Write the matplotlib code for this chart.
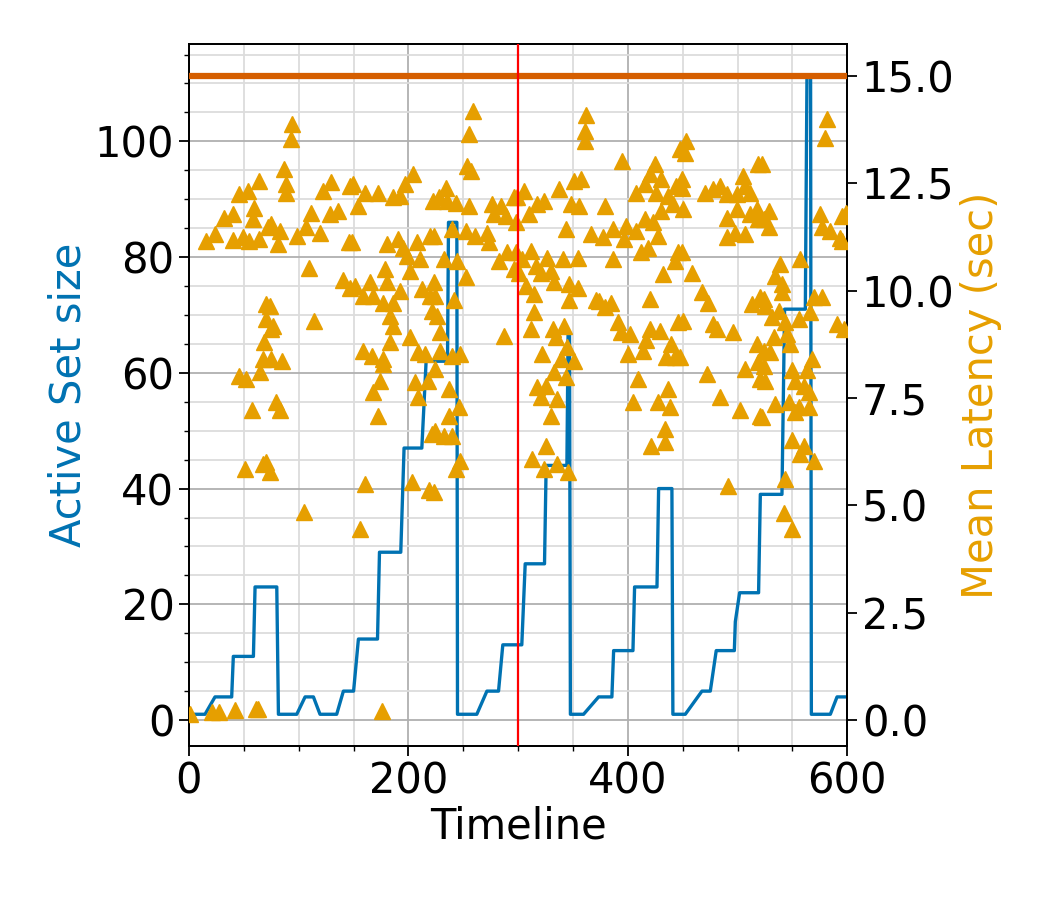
import matplotlib
matplotlib.use("Agg")
import matplotlib.pyplot as plt
from matplotlib.ticker import MultipleLocator

# active set size over time (step-like line, vertices)
set_time = [0, 14.6, 23.7, 38.9, 40.4, 58.7, 60.2, 80, 81.5, 98.2, 105.8, 113.4,
            119.4, 134.6, 140.7, 150, 154.4, 171.8, 173.6, 193, 196, 212.2, 216.1,
            235.6, 236.5, 244.1, 244.7, 262.3, 271.5, 282.1, 286, 303.3, 306.4,
            324, 325.5, 344.4, 345.5, 346.8, 347.6, 359.6, 373.3, 385.4, 387,
            404.6, 406.1, 426.5, 428, 440.1, 441, 452.3, 459.9, 467.5, 475.1,
            480.5, 497, 497.9, 501.8, 519.1, 520.7, 540.4, 542.8, 561.7, 563.2,
            566.5, 567.2, 584.5, 590.6, 600]
set_size = [1, 1, 4, 4, 11, 11, 23, 23, 1, 1, 4, 4,
            1, 1, 5, 5, 14, 14, 29, 29, 47, 47, 62,
            62, 86, 86, 1, 1, 5, 5, 13, 13, 27,
            27, 44, 44, 67, 67, 1, 1, 4, 4, 12,
            12, 23, 23, 40, 40, 1, 1, 3, 5, 5,
            12, 12, 17, 22, 22, 39, 39, 71, 71, 111.3,
            111.3, 1, 1, 4, 4]

# mean latency samples (time, seconds)
lat_time = [
    1, 21, 27, 42, 61, 63, 176,
    64.2, 45.9, 53.5, 59.6, 58.1, 32.3, 39.9, 71.8, 15.5, 24.1, 39.9, 49, 55.1,
    64.2, 70.3, 70.3, 68.7, 67.2, 64.8, 45.3, 52, 57.5, 51.4, 67.2, 70.3,
    93.9, 93.3, 86.6, 88.7, 88.7, 122.2, 129.2, 146.5, 110.9, 128.2, 135.8,
    107, 119.1, 98.8, 75, 82.6, 81.1, 145.6, 109.1, 140.4, 146.5, 114, 73.5,
    76.6, 74.4, 75, 84.8, 79.6, 82.6, 73.5, 104.8,
    204.6, 197, 149.8, 160.5, 154.4, 172.6, 186.3, 192.4, 222.8, 148.3, 180.2,
    190.9, 195.4, 207.6, 198.5, 210.6, 219.8, 178.7, 201.5, 180.2, 151.4, 165,
    159, 168.1, 177.2, 186.3, 192.4, 212.2, 219.8, 183.3, 186.3, 221.3, 183.3,
    201.5, 209.1, 215.2, 159, 166.6, 177.2, 177.2, 174.2, 168.1, 206.1, 209.1,
    218.2, 172.6, 221.3, 160.5, 203, 219.1, 155.9,
    258.7, 255.6, 253.5, 256.6, 233.8, 227.7, 235.3, 242.9, 255, 276.3, 283.9,
    277.8, 288.5, 296, 223.1, 239.8, 252, 261.1, 271.8, 273.3, 282.4, 290,
    296.1, 232.2, 244.4, 252, 223.1, 224.6, 241.4, 226.2, 229.2, 287, 229.2,
    239.8, 247.4, 224.6, 236.8, 245.9, 236.8, 224.6, 232.2, 239.8, 247.4,
    242.9, 223.1,
    361.7, 360.8, 360.8, 351, 357.1, 337.3, 305.4, 299.3, 323.7, 317.6, 310,
    348, 355.6, 343.4, 366.2, 297.8, 297.8, 303.9, 311.5, 316.1, 326.7, 340.4,
    354.1, 320.6, 329.7, 300.9, 332.8, 306.9, 314.5, 346.5, 354.1, 346.5,
    370.8, 314.5, 311.5, 331.3, 341.9, 334.3, 344.9, 322.1, 338.9, 351, 332.8,
    343.4, 317.6, 325.2, 320.6, 335.8, 329.7, 325.2, 313, 323.1, 335.8, 345.5,
    394.8, 447.1, 424.3, 419.7, 430.4, 415.2, 407.6, 425.8, 436.5, 444, 441,
    378.7, 430.4, 415.2, 422.8, 398.5, 386.3, 407.6, 427.3, 377.2, 396.9,
    418.2, 412.1, 386.3, 442.5, 431.9, 445.6, 374.1, 384.8, 378.7, 419.7,
    445.6, 390.9, 393.9, 401.5, 419.7, 428.9, 416.7, 413.7, 400, 439.5, 435,
    442.5, 409.1, 436.5, 404.5, 427.3, 438, 433.4, 421.3, 433.4,
    452.6, 452, 518.9, 505.2, 506.7, 511.3, 448.9, 448.9, 470.2, 477.8, 483.9,
    490, 499.1, 450.5, 490, 499.1, 511.3, 517.3, 518.9, 490, 497.6, 506.7,
    448.9, 458.1, 467.2, 473.3, 512.8, 520.4, 450.5, 477.8, 480.9, 496.1,
    517.3, 447.4, 518.9, 471.7, 506.7, 483.9, 502.1, 520.4, 520.4, 491.5,
    581.5, 580, 522.2, 528.3, 523.7, 528.3, 575.4, 576.9, 584.5, 595.2, 595.2,
    557.2, 539, 534.4, 540.5, 540.5, 523.7, 525.3, 569.3, 576.9, 537.4, 566.3,
    555.7, 531.3, 543.5, 590.6, 596.7, 545, 532.9, 523.7, 529.8, 548.1, 567.8,
    563.3, 549.6, 523.7, 525.3, 552.6, 560.2, 564.8, 534.4, 546.5, 555.7,
    564.8, 552.6, 522.2, 549.6, 560.2, 557.2, 569.3, 543.5, 542, 549.6,
    593.6, 599,
]
latency = [
    0.14, 0.19, 0.19, 0.23, 0.26, 0.26, 0.2,
    12.55, 12.24, 12.32, 11.93, 11.66, 11.7, 11.78, 11.47, 11.16, 11.31, 11.18,
    11.24, 11.16, 11.2, 9.69, 9.35, 8.8, 8.41, 8.1, 8.02, 7.94, 7.21, 5.85,
    5.97, 6.0,
    13.87, 13.52, 12.84, 12.48, 12.28, 12.32, 12.53, 12.44, 11.8, 11.78, 11.86,
    11.47, 11.35, 11.28, 11.55, 11.39, 11.08, 11.12, 10.52, 10.25, 10.07, 9.3,
    9.65, 9.18, 9.1, 8.41, 8.37, 7.4, 7.21, 5.77, 4.84,
    12.71, 12.48, 12.48, 12.28, 11.97, 12.28, 12.17, 12.2, 12.09, 11.12, 11.08,
    11.2, 11.0, 11.12, 10.81, 10.73, 11.28, 10.5, 10.46, 10.19, 10.11, 10.19,
    9.88, 9.88, 9.72, 9.72, 10.0, 10.04, 9.88, 9.42, 9.18, 9.53, 8.8,
    8.91, 8.56, 8.52, 8.6, 8.48, 8.41, 8.29, 7.9, 7.63, 7.86, 7.52,
    7.9, 7.09, 6.66, 5.5, 5.54, 5.35, 4.46,
    14.18, 13.64, 12.9, 12.79, 12.4, 12.17, 12.09, 12.05, 11.97, 12.01, 11.97,
    11.78, 11.74, 12.17, 11.28, 11.43, 11.39, 11.28, 11.35, 11.12, 10.69, 10.89,
    10.5, 10.73, 10.69, 10.31, 10.19, 9.88, 9.77, 9.42, 9.03, 8.95, 8.6,
    8.48, 8.52, 8.17, 7.71, 7.28, 7.09, 6.74, 6.62, 6.62, 6.04,
    5.85, 5.31,
    14.1, 13.72, 13.48, 12.55, 12.59, 12.36, 12.32, 12.17, 12.09, 12.01, 11.78,
    12.01, 11.97, 11.43, 11.31, 11.59, 10.89, 10.73, 10.93, 10.58, 10.77, 10.73,
    10.77, 10.42, 10.46, 10.42, 10.19, 10.11, 9.92, 10.15, 10.07, 9.77,
    9.77, 9.49, 9.11, 9.11, 9.18, 8.91, 8.68, 8.52, 8.41, 8.37, 8.1,
    7.98, 7.75, 7.79, 7.52, 7.48, 7.09, 6.39, 6.08, 5.85, 5.97, 5.77,
    13.02, 13.29, 12.94, 12.71, 12.59, 12.48, 12.28, 12.28, 12.2, 12.44, 12.01,
    11.97, 11.86, 11.66, 11.59, 11.51, 11.43, 11.39, 11.28, 11.24, 11.2,
    11.0, 10.89, 10.73, 10.69, 10.38, 10.89, 9.76, 9.72, 9.61, 9.8,
    9.26, 9.26, 9.03, 8.99, 9.11, 9.07, 8.84, 8.6, 8.52, 8.76, 8.45,
    8.45, 7.94, 7.71, 7.4, 7.4, 7.28, 6.78, 6.39, 6.47,
    13.48, 13.21, 12.94, 12.67, 12.44, 12.28, 12.59, 12.4, 12.28, 12.36, 12.44,
    12.24, 12.24, 11.9, 11.7, 11.9, 11.78, 11.9, 11.66, 11.24, 11.35, 11.31,
    10.89, 10.42, 9.96, 9.72, 9.69, 9.84, 9.3, 9.22, 9.11, 9.03,
    8.76, 8.45, 8.33, 8.06, 8.17, 7.52, 7.21, 7.09, 7.94, 5.46,
    13.99, 13.56, 12.94, 11.86, 11.66, 11.47, 11.78, 11.47, 11.39, 11.74, 11.16,
    10.73, 10.62, 10.35, 10.15, 9.96, 9.8, 9.65, 9.84, 9.84, 9.53, 9.49,
    9.34, 9.38, 9.26, 9.22, 9.11, 8.99, 8.91, 8.6, 8.56, 8.76, 8.41,
    8.14, 8.14, 8.25, 7.9, 7.9, 7.79, 7.63, 7.36, 7.4, 7.28,
    7.28, 7.17, 7.05, 6.51, 6.39, 6.2, 6.04, 5.62, 4.81, 4.46,
    11.23, 11.8,
]

latency_cap = 15.0
split_time = 300

plt.rcParams["font.size"] = 30

fig = plt.figure(figsize=(10.5, 9), dpi=100)
ax = fig.add_axes([0.18, 0.171, 0.627, 0.78])
ax2 = ax.twinx()

ax.plot(set_time, set_size, color="#0072b2", lw=2.4, zorder=2)
ax.set_xlim(0, 600)
ax.set_ylim(-4.5, 116.8)
ax.xaxis.set_major_locator(MultipleLocator(200))
ax.xaxis.set_minor_locator(MultipleLocator(50))
ax.yaxis.set_major_locator(MultipleLocator(20))
ax.yaxis.set_minor_locator(MultipleLocator(5))
ax.grid(which="major", color="#b0b0b0", lw=1.3)
ax.grid(which="minor", color="#dcdcdc", lw=1.3)
ax.set_axisbelow(True)
ax.tick_params(which="major", length=7, width=1.3)
ax.tick_params(which="minor", length=3.5, width=1)
ax.set_xlabel("Timeline", labelpad=2)
ax.set_ylabel("Active Set size", color="#0072b2")

ax2.plot(lat_time, latency, "^", color="#e69f00", ms=12, zorder=3)
ax2.axhline(latency_cap, color="#d55e00", lw=4.5, zorder=4)
ax2.axvline(split_time, color="red", lw=1.6, zorder=5)
ax2.set_ylim(-0.607, 15.74)
ax2.yaxis.set_major_locator(MultipleLocator(2.5))
ax2.tick_params(which="major", length=7, width=1.3)
ax2.set_ylabel("Mean Latency (sec)", color="#e69f00")

for a in (ax, ax2):
    for s in a.spines.values():
        s.set_linewidth(1.3)

fig.savefig("out.png", dpi=100)
